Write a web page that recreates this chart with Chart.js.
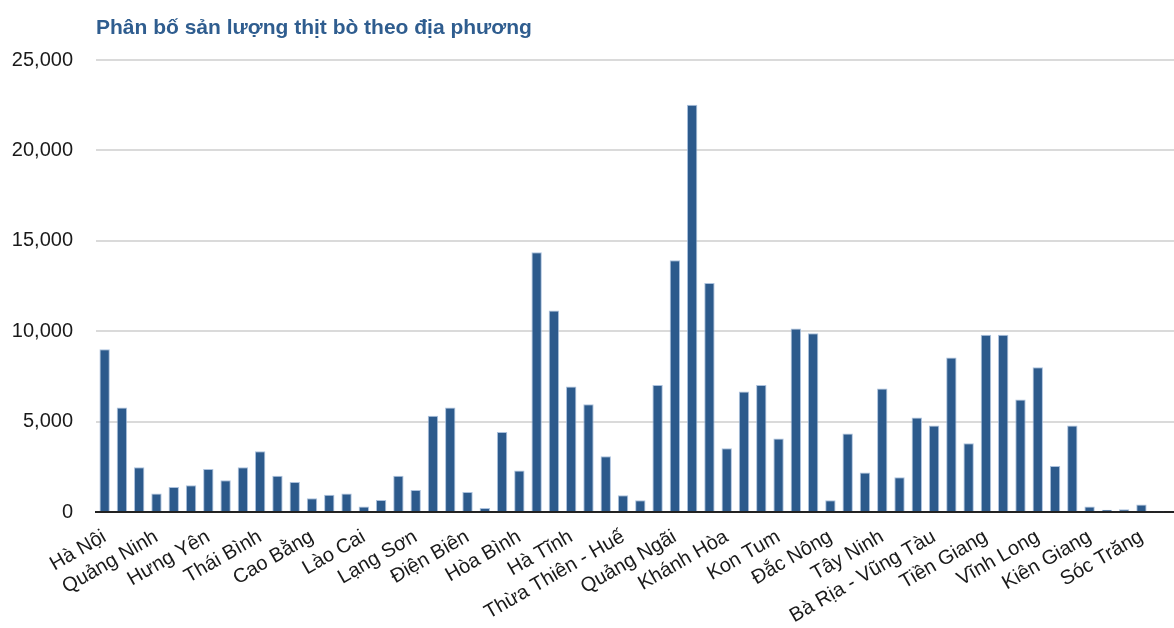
<!DOCTYPE html>
<html lang="vi">
<head>
<meta charset="utf-8">
<title>Phân bố sản lượng thịt bò theo địa phương</title>
<script src="https://cdn.jsdelivr.net/npm/chart.js@4/dist/chart.umd.min.js"></script>
<style>
  html, body { margin: 0; padding: 0; background: #ffffff; overflow: hidden; }
  #wrap { position: relative; width: 1174px; height: 628px; overflow: hidden; }
  canvas { display: block; }
</style>
</head>
<body>
<div id="wrap"><canvas id="chart" width="1201" height="628"></canvas></div>
<script>
// Provinces, in the statistical office's regional order
const provinces = [
  "Hà Nội", "Vĩnh Phúc", "Bắc Ninh", "Quảng Ninh", "Hải Dương", "Hải Phòng",
  "Hưng Yên", "Hà Nam", "Nam Định", "Thái Bình", "Ninh Bình", "Hà Giang",
  "Cao Bằng", "Bắc Kạn", "Tuyên Quang", "Lào Cai", "Yên Bái", "Thái Nguyên",
  "Lạng Sơn", "Bắc Giang", "Phú Thọ", "Điện Biên", "Lai Châu", "Sơn La",
  "Hòa Bình", "Thanh Hóa", "Nghệ An", "Hà Tĩnh", "Quảng Bình", "Quảng Trị",
  "Thừa Thiên - Huế", "Đà Nẵng", "Quảng Nam", "Quảng Ngãi", "Bình Định", "Phú Yên",
  "Khánh Hòa", "Ninh Thuận", "Bình Thuận", "Kon Tum", "Gia Lai", "Đắc Lắc",
  "Đắc Nông", "Lâm Đồng", "Bình Phước", "Tây Ninh", "Bình Dương", "Đồng Nai",
  "Bà Rịa - Vũng Tàu", "TP. Hồ Chí Minh", "Long An", "Tiền Giang", "Bến Tre", "Trà Vinh",
  "Vĩnh Long", "Đồng Tháp", "An Giang", "Kiên Giang", "Cần Thơ", "Hậu Giang",
  "Sóc Trăng", "Bạc Liêu", "Cà Mau"
];

// Beef output per province (tonnes)
const beefOutput = [
  9000, 5780, 2470, 1020, 1380, 1480, 2380, 1750, 2470, 3360,
  2010, 1660, 760, 960, 1030, 310, 660, 2010, 1220, 5330,
  5780, 1110, 220, 4430, 2290, 14370, 11150, 6940, 5960, 3080,
  920, 650, 7030, 13930, 22520, 12670, 3530, 6660, 7030, 4060,
  10150, 9890, 650, 4340, 2180, 6830, 1920, 5220, 4780, 8540,
  3800, 9800, 9800, 6220, 8010, 2550, 4780, 300, 130, 150,
  410, 40, 60
];

// Value axis ticks
const yTickValues = [0, 5000, 10000, 15000, 20000, 25000];

const chartTitle = "Phân bố sản lượng thịt bò theo địa phương";
const FONT = '"Liberation Sans", Arial, sans-serif';

// Title drawn flush with the left edge of the plot area
const titlePlugin = {
  id: 'plotTitle',
  afterDraw(chart) {
    const ctx = chart.ctx;
    ctx.save();
    ctx.font = 'bold 21px ' + FONT;
    ctx.fillStyle = '#2f5d8f';
    ctx.textAlign = 'left';
    ctx.textBaseline = 'middle';
    ctx.fillText(chartTitle, chart.chartArea.left, 28);
    ctx.restore();
  }
};

new Chart(document.getElementById('chart'), {
  type: 'bar',
  data: {
    labels: provinces,
    datasets: [{
      label: chartTitle,
      data: beefOutput,
      backgroundColor: '#2c5a8c',
      borderColor: 'rgba(150, 178, 212, 0.8)',
      borderWidth: 1,
      categoryPercentage: 1.0,
      barPercentage: 0.6
    }]
  },
  options: {
    responsive: false,
    animation: false,
    layout: { padding: { top: 60, right: 0, bottom: 0, left: 0 } },
    plugins: {
      legend: { display: false },
      tooltip: { enabled: false },
      title: { display: false }
    },
    scales: {
      x: {
        grid: { display: false, drawTicks: false },
        border: { display: true, color: '#222222', width: 2 },
        ticks: {
          autoSkip: false,
          minRotation: 30,
          maxRotation: 30,
          padding: 13,
          color: '#1a1a1a',
          font: { family: FONT, size: 20 },
          callback: function (value, index) {
            return index % 3 === 0 ? provinces[index] : '';
          }
        },
        afterFit(scale) { scale.height = 116; }
      },
      y: {
        min: 0,
        max: 25000,
        afterBuildTicks(scale) {
          scale.ticks = yTickValues.map(v => ({ value: v }));
        },
        grid: { color: '#dadada', lineWidth: 2, drawTicks: false },
        border: { display: false },
        ticks: {
          padding: 23,
          color: '#1a1a1a',
          font: { family: FONT, size: 20 },
          callback: v => Number(v).toLocaleString('en-US')
        },
        afterFit(scale) { scale.width = 96; }
      }
    }
  },
  plugins: [titlePlugin]
});
</script>
</body>
</html>
